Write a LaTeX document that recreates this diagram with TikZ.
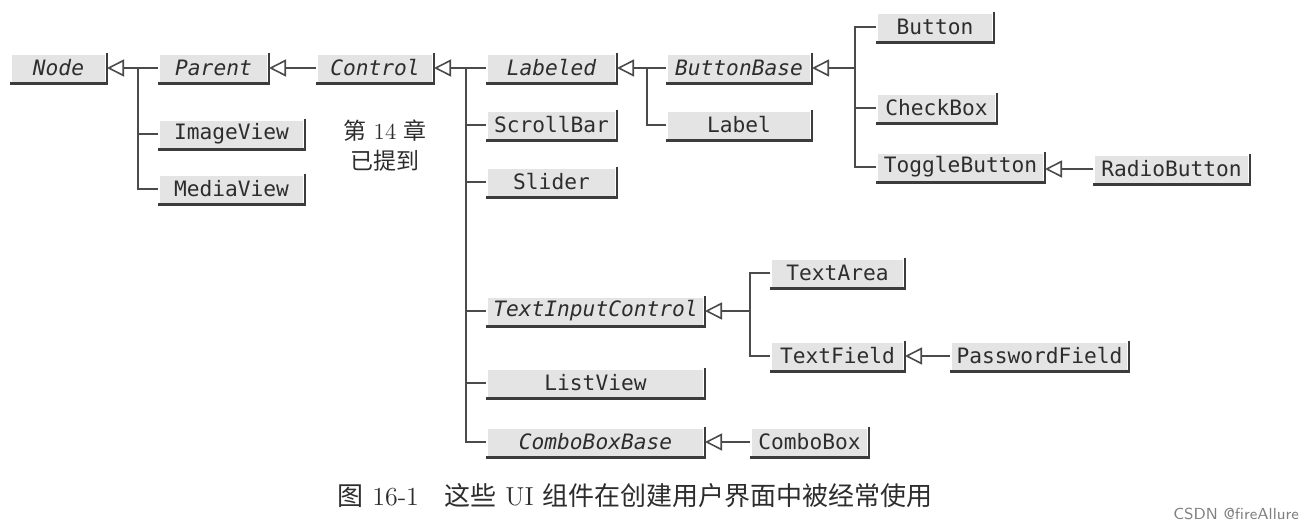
\documentclass[tikz,border=0pt]{standalone}
\usepackage{fontspec}
\usetikzlibrary{arrows.meta}
\newfontfamily\monofont{DejaVu Sans Mono}[ItalicFont={DejaVu Sans Mono Oblique}]
\newfontfamily\cjk{Noto Sans CJK SC}

\begin{document}
\begin{tikzpicture}[x=0.5pt,y=-0.5pt,
    classe/.style={fill=boxcol, text=textcol, minimum height=13.5pt, inner sep=0pt, outer sep=1pt,
        font=\monofont\fontsize{10.6}{12}\selectfont},
    abstrata/.style={classe, font=\monofont\itshape\fontsize{10.6}{12}\selectfont},
    sombra/.style={draw=shadowcol, line width=1.2pt},
    liga/.style={draw=linecol, line width=0.8pt},
    heranca/.style={liga, -{Triangle[open, length=8.5pt, width=8.5pt]}}]

    % Definindo cores
    \definecolor{boxcol}{RGB}{228, 228, 228}    % Fundo das caixas
    \definecolor{textcol}{RGB}{45, 45, 45}      % Texto
    \definecolor{shadowcol}{RGB}{60, 60, 60}    % Sombra das caixas
    \definecolor{linecol}{RGB}{75, 75, 75}      % Linhas

    \useasboundingbox (0,0) rectangle (1316,530);

    % 1. Classes da esquerda
    \node[abstrata, minimum width=46.5pt] (node) at (58.5,68) {Node};
    \node[abstrata, minimum width=53.5pt] (parent) at (213.5,68) {Parent};
    \node[abstrata, minimum width=57pt] (control) at (375,68) {Control};
    \node[classe, minimum width=71.5pt] (imageview) at (231.5,134) {ImageView};
    \node[classe, minimum width=71.5pt] (mediaview) at (231.5,189) {MediaView};

    % 2. Filhas de Control
    \node[abstrata, minimum width=63.5pt] (labeled) at (551.5,68) {Labeled};
    \node[classe, minimum width=63.5pt] (scrollbar) at (551.5,125) {ScrollBar};
    \node[classe, minimum width=63.5pt] (slider) at (551.5,182) {Slider};
    \node[abstrata, minimum width=107.5pt] (textinput) at (595.5,311) {TextInputControl};
    \node[classe, minimum width=107.5pt] (listview) at (595.5,383) {ListView};
    \node[abstrata, minimum width=107.5pt] (comboboxbase) at (595.5,442) {ComboBoxBase};

    % 3. Botoes e rotulos
    \node[abstrata, minimum width=71pt] (buttonbase) at (739,68) {ButtonBase};
    \node[classe, minimum width=71pt] (label) at (739,125) {Label};
    \node[classe, minimum width=57pt] (button) at (935,27) {Button};
    \node[classe, minimum width=58.5pt] (checkbox) at (936.5,108) {CheckBox};
    \node[classe, minimum width=82.5pt] (togglebutton) at (960.5,167) {ToggleButton};
    \node[classe, minimum width=76.5pt] (radiobutton) at (1171.5,169) {RadioButton};

    % 4. Campos de texto e combo
    \node[classe, minimum width=65.5pt] (textarea) at (837.5,273) {TextArea};
    \node[classe, minimum width=65.5pt] (textfield) at (837.5,356) {TextField};
    \node[classe, minimum width=87.5pt] (passwordfield) at (1039.5,356) {PasswordField};
    \node[classe, minimum width=57.5pt] (combobox) at (809.5,442) {ComboBox};

    % 5. Sombras das caixas
    \foreach \n in {node, parent, control, imageview, mediaview, labeled, scrollbar, slider,
        textinput, listview, comboboxbase, buttonbase, label, button, checkbox, togglebutton,
        radiobutton, textarea, textfield, passwordfield, combobox}
        \draw[sombra] (\n.north east) -- (\n.south east) -- (\n.south west);

    % 6. Troncos das hierarquias
    \coordinate (troncoNode) at (138,68);
    \coordinate (troncoControl) at (466,68);
    \coordinate (troncoLabeled) at (647,68);
    \coordinate (troncoBase) at (855,68);
    \coordinate (troncoText) at (750,311);

    % 7. Ligacoes de heranca
    \draw[heranca] (troncoNode) -- (node);
    \draw[liga] (parent.west) -| (troncoNode);
    \draw[liga] (imageview.west) -| (troncoNode);
    \draw[liga] (mediaview.west) -| (troncoNode);

    \draw[heranca] (control) -- (parent);

    \draw[heranca] (troncoControl) -- (control);
    \foreach \n in {labeled, scrollbar, slider, textinput, listview, comboboxbase}
        \draw[liga] (\n.west) -| (troncoControl);

    \draw[heranca] (troncoLabeled) -- (labeled);
    \draw[liga] (buttonbase.west) -| (troncoLabeled);
    \draw[liga] (label.west) -| (troncoLabeled);

    \draw[heranca] (troncoBase) -- (buttonbase);
    \foreach \n in {button, checkbox, togglebutton}
        \draw[liga] (\n.west) -| (troncoBase);

    \draw[heranca] (radiobutton.west) -- (togglebutton.east |- radiobutton.west);

    \draw[heranca] (troncoText) -- (textinput);
    \draw[liga] (textarea.west) -| (troncoText);
    \draw[liga] (textfield.west) -| (troncoText);

    \draw[heranca] (passwordfield) -- (textfield);
    \draw[heranca] (combobox) -- (comboboxbase);

    % 8. Textos
    \node[align=center, text=textcol, font=\fontsize{11.5}{15}\selectfont] (nota) at (385,146)
        {{\cjk 第} 14 {\cjk 章}\\{\cjk 已提到}};
    \node[text=textcol, font=\fontsize{13}{15}\selectfont] (legenda) at (635,496)
        {{\cjk 图} 16-1\quad{\cjk 这些} UI {\cjk 组件在创建用户界面中被经常使用}};
    \node[anchor=east, text=gray, font=\sffamily\fontsize{8}{9}\selectfont] (marca) at (1306,514)
        {CSDN @fireAllure};

\end{tikzpicture}
\end{document}
